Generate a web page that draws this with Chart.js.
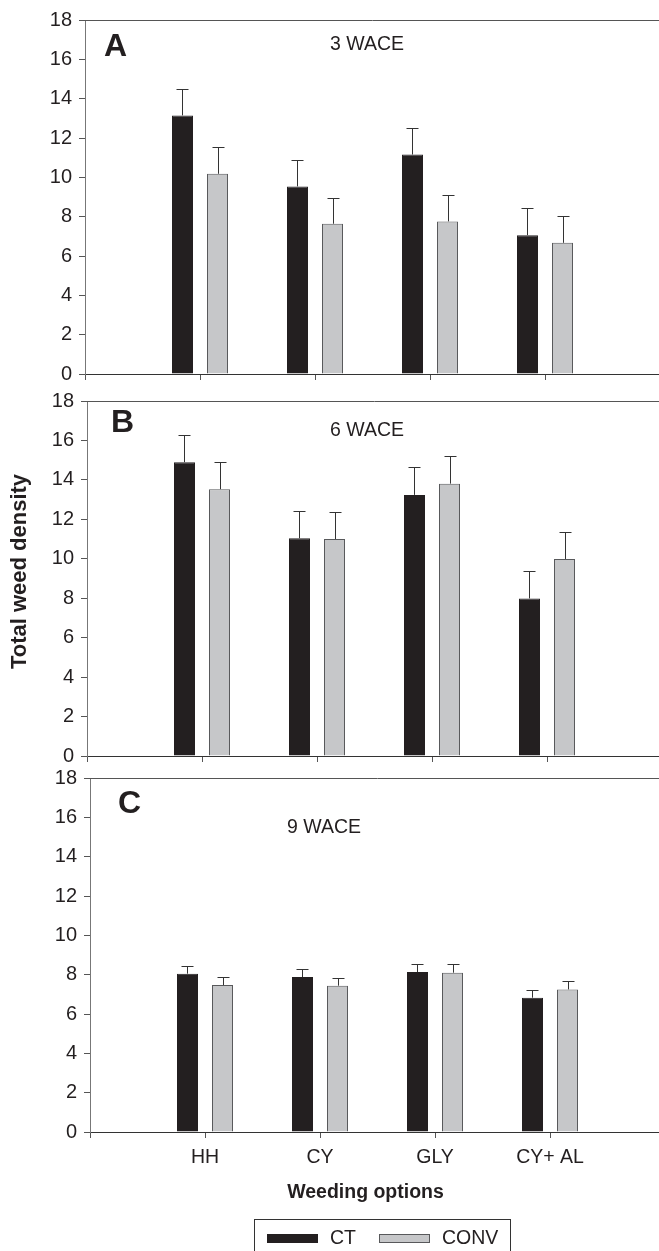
<!DOCTYPE html>
<html>
<head>
<meta charset="utf-8">
<script src="https://cdn.jsdelivr.net/npm/chart.js@4.4.1/dist/chart.umd.min.js"></script>
<style>
html, body { margin: 0; padding: 0; background: #fff; }
#page { position: relative; width: 659px; height: 1251px; overflow: hidden; }
#page canvas { position: absolute; left: 0; }
</style>
</head>
<body>
<div id="page">
  <canvas id="panelA" width="700" height="395" style="top:0px"></canvas>
  <canvas id="panelB" width="700" height="397" style="top:380px"></canvas>
  <canvas id="panelC" width="700" height="510" style="top:758px"></canvas>
</div>
<script>
// x positions: empty slots at both ends keep the groups where the figure has them
const categories = ['', 'HH', 'CY', 'GLY', 'CY+ AL', ''];
const seriesNames = ['CT', 'CONV'];
const panelLetters = ['A', 'B', 'C'];
const periods = ['3 WACE', '6 WACE', '9 WACE'];
const yMin = 0, yMax = 18, yStep = 2;

// 3 WACE
const ct3 = [null, 13.15, 9.54, 11.16, 7.06, null];
const conv3 = [null, 10.18, 7.64, 7.76, 6.67, null];
const ct3Err = [0, 1.34, 1.32, 1.34, 1.36, 0];
const conv3Err = [0, 1.36, 1.32, 1.35, 1.34, 0];

// 6 WACE
const ct6 = [null, 14.90, 11.04, 13.24, 7.99, null];
const conv6 = [null, 13.53, 11.00, 13.81, 9.99, null];
const ct6Err = [0, 1.37, 1.40, 1.39, 1.39, 0];
const conv6Err = [0, 1.40, 1.39, 1.41, 1.39, 0];

// 9 WACE
const ct9 = [null, 8.05, 7.88, 8.13, 6.83, null];
const conv9 = [null, 7.47, 7.44, 8.10, 7.25, null];
const ct9Err = [0, 0.39, 0.39, 0.41, 0.41, 0];
const conv9Err = [0, 0.41, 0.39, 0.43, 0.41, 0];

const ctColor = '#231f20';
const convColor = '#c6c7c9';
const convBorder = '#58595b';
const textColor = '#231f20';

Chart.defaults.font.family = '"Liberation Sans", Arial, Helvetica, sans-serif';
Chart.defaults.color = textColor;

// error bars (upper only), panel letter, period label, top frame line
const decorations = {
  id: 'decorations',
  afterDatasetsDraw(chart, args, opts) {
    const ctx = chart.ctx;
    const area = chart.chartArea;
    const y = chart.scales.y;
    ctx.save();
    // top frame line
    ctx.strokeStyle = '#555';
    ctx.lineWidth = 1;
    ctx.beginPath();
    ctx.moveTo(area.left, Math.round(area.top) + 0.5);
    ctx.lineTo(area.right, Math.round(area.top) + 0.5);
    ctx.stroke();

    // error bars
    ctx.strokeStyle = '#333';
    chart.data.datasets.forEach((ds, i) => {
      const meta = chart.getDatasetMeta(i);
      meta.data.forEach((bar, j) => {
        if (ds.data[j] == null) return;
        const top = y.getPixelForValue(ds.data[j] + ds.errors[j]);
        const x = Math.round(bar.x) + 0.5;
        const yt = Math.round(top) + 0.5;
        ctx.beginPath();
        ctx.moveTo(x, bar.y);
        ctx.lineTo(x, yt);
        ctx.moveTo(x - 6, yt);
        ctx.lineTo(x + 6, yt);
        ctx.stroke();
      });
    });

    // panel letter and sampling time
    ctx.fillStyle = textColor;
    ctx.textBaseline = 'alphabetic';
    ctx.textAlign = 'left';
    ctx.font = 'bold 32px "Liberation Sans", Arial, sans-serif';
    ctx.fillText(opts.letter, area.left + opts.letterX, area.top + opts.letterY);
    ctx.font = '19.5px "Liberation Sans", Arial, sans-serif';
    ctx.fillText(opts.period, opts.periodX, area.top + opts.periodY);

    // shared y title, drawn once on the middle panel
    if (opts.yTitle) {
      ctx.save();
      ctx.translate(20, (area.top + area.bottom) / 2 - 7);
      ctx.rotate(-Math.PI / 2);
      ctx.textAlign = 'center';
      ctx.textBaseline = 'middle';
      ctx.font = 'bold 22px "Liberation Sans", Arial, sans-serif';
      ctx.fillText(opts.yTitle, 0, 0);
      ctx.restore();
    }

    // x title, set a little left of the plot centre as in the figure
    if (opts.xTitle) {
      ctx.textAlign = 'center';
      ctx.textBaseline = 'alphabetic';
      ctx.font = 'bold 19.5px "Liberation Sans", Arial, sans-serif';
      ctx.fillText(opts.xTitle, 365.5, area.bottom + 66);
    }

    // boxed legend under the last panel
    if (opts.legend) {
      const L = opts.legend;
      ctx.textAlign = 'left';
      ctx.strokeStyle = '#333';
      ctx.strokeRect(L.x + 0.5, L.y + 0.5, L.w, L.h);
      ctx.font = '19.5px "Liberation Sans", Arial, sans-serif';
      ctx.textBaseline = 'middle';
      chart.data.datasets.forEach((ds, i) => {
        const sx = L.items[i];
        ctx.fillStyle = ds.backgroundColor;
        ctx.fillRect(sx, L.swatchY, 51, 9);
        ctx.strokeStyle = ds.borderColor;
        ctx.strokeRect(sx + 0.5, L.swatchY + 0.5, 50, 8);
        ctx.fillStyle = textColor;
        ctx.fillText(ds.label, sx + 63, L.swatchY + 5);
      });
    }
    ctx.restore();
  }
};

function makePanel(canvasId, ct, conv, ctErr, convErr, p) {
  return new Chart(document.getElementById(canvasId), {
    type: 'bar',
    data: {
      labels: categories,
      datasets: [
        { label: seriesNames[0], data: ct, errors: ctErr, backgroundColor: ctColor,
          borderColor: ctColor, borderWidth: 1, categoryPercentage: 0.609, barPercentage: 0.6 },
        { label: seriesNames[1], data: conv, errors: convErr, backgroundColor: convColor,
          borderColor: convBorder, borderWidth: 1, categoryPercentage: 0.609, barPercentage: 0.6 }
      ]
    },
    options: {
      responsive: false,
      animation: false,
      layout: { padding: { top: p.padTop, right: 700 - p.left - 575, bottom: 0, left: 0 } },
      plugins: {
        legend: { display: false },
        tooltip: { enabled: false },
        decorations: p.deco
      },
      scales: {
        x: {
          type: 'category',
          offset: false,
          grid: { offset: false, drawOnChartArea: false, drawTicks: true, tickLength: 6, color: '#555' },
          border: { display: true, color: '#333', width: 1 },
          ticks: {
            autoSkip: false, maxRotation: 0, padding: 8,
            color: p.showLabels ? textColor : 'rgba(0,0,0,0)',
            font: { size: 19.5 }
          },
          afterFit: s => { s.height = p.xHeight; }
        },
        y: {
          min: yMin, max: yMax,
          grid: { drawOnChartArea: false, drawTicks: true, tickLength: 6, color: '#555' },
          border: { display: true, color: '#777', width: 1 },
          ticks: { stepSize: yStep, padding: 7, font: { size: 20 } },
          afterFit: s => { s.width = p.left; }
        }
      }
    },
    plugins: [decorations]
  });
}

makePanel('panelA', ct3, conv3, ct3Err, conv3Err, {
  padTop: 20, left: 85, xHeight: 21, showLabels: false,
  deco: { letter: panelLetters[0], letterX: 19, letterY: 35.5, period: periods[0], periodX: 330, periodY: 30 }
});
makePanel('panelB', ct6, conv6, ct6Err, conv6Err, {
  padTop: 21, left: 87, xHeight: 21, showLabels: false,
  deco: { letter: panelLetters[1], letterX: 24, letterY: 31, period: periods[1], periodX: 330, periodY: 35,
          yTitle: 'Total weed density' }
});
makePanel('panelC', ct9, conv9, ct9Err, conv9Err, {
  padTop: 20, left: 90, xHeight: 136, showLabels: true,
  deco: { letter: panelLetters[2], letterX: 28, letterY: 35, period: periods[2], periodX: 287, periodY: 55,
          xTitle: 'Weeding options',
          legend: { x: 254, y: 461, w: 256, h: 40, swatchY: 476, items: [267, 379] } }
});
</script>
</body>
</html>
